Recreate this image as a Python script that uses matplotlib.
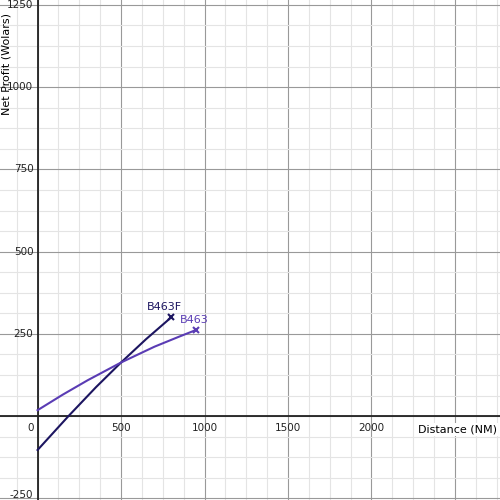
import numpy as np
import matplotlib.pyplot as plt
from matplotlib.ticker import MultipleLocator

# B463F: nearly straight, slightly concave
b463f_x = [0, 185, 350, 500, 650, 800]
b463f_y = [-103, 0, 88, 163, 234, 300]
# B463: concave curve
b463_x = [0, 150, 300, 500, 700, 850, 950]
b463_y = [18, 65, 109, 163, 211, 242, 262]

fig = plt.figure(figsize=(5, 5), dpi=100)
ax = fig.add_axes([0, 0, 1, 1])
ax.set_xlim(-225, 2770)
ax.set_ylim(-255, 1265)

ax.xaxis.set_major_locator(MultipleLocator(500))
ax.yaxis.set_major_locator(MultipleLocator(250))
ax.xaxis.set_minor_locator(MultipleLocator(125))
ax.yaxis.set_minor_locator(MultipleLocator(62.5))
ax.grid(which='major', color='#999999', lw=0.8)
ax.grid(which='minor', color='#e4e4e4', lw=0.8)
ax.tick_params(which='both', length=0, labelleft=False, labelbottom=False)
for s in ax.spines.values():
    s.set_visible(False)
ax.axhline(0, color='#222222', lw=1.3)
ax.axvline(0, color='#222222', lw=1.3)

for v in [500, 1000, 1500, 2000, 2500]:
    ax.text(v, -22, str(v), ha='center', va='top', fontsize=7.5, color='#222222')
ax.text(-25, -22, '0', ha='right', va='top', fontsize=7.5, color='#222222')
for v in [250, 500, 750, 1000, 1250]:
    ax.text(-25, v, str(v), ha='right', va='center', fontsize=7.5, color='#222222')
ax.text(-25, -240, '-250', ha='right', va='center', fontsize=7.5, color='#222222')

ax.text(2750, -25, 'Distance (NM)', ha='right', va='top', fontsize=8,
        bbox=dict(fc='white', ec='none', pad=1))
ax.text(-215, 1225, 'Net Profit (Wolars)', rotation=90, ha='left', va='top', fontsize=8)

c1 = '#1c1560'
c2 = '#5a3cb4'
ax.plot(b463f_x, b463f_y, color=c1, lw=1.5)
ax.plot(b463_x, b463_y, color=c2, lw=1.5)
ax.plot(b463f_x[-1], b463f_y[-1], 'x', color=c1, ms=5, mew=1.5)
ax.plot(b463_x[-1], b463_y[-1], 'x', color=c2, ms=5, mew=1.5)
ax.text(b463f_x[-1] - 40, b463f_y[-1] + 15, 'B463F', color=c1, ha='center', va='bottom', fontsize=8)
ax.text(b463_x[-1] - 10, b463_y[-1] + 15, 'B463', color=c2, ha='center', va='bottom', fontsize=8)

fig.savefig('out.png')
